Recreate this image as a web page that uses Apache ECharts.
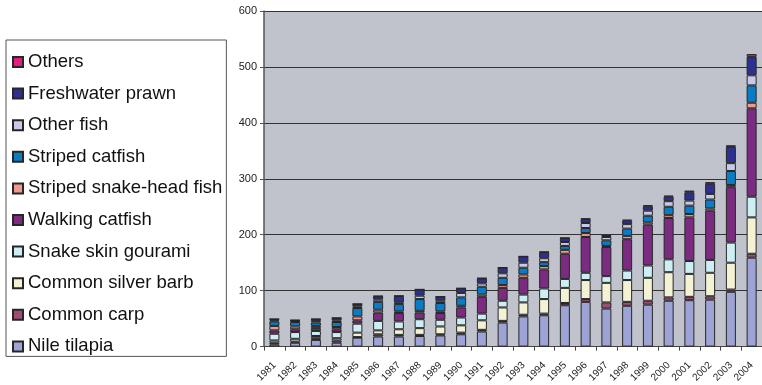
<!DOCTYPE html>
<html>
<head>
<meta charset="utf-8">
<script src="https://cdn.jsdelivr.net/npm/echarts@6/dist/echarts.min.js"></script>
<style>
  html, body { margin: 0; padding: 0; background: #ffffff; }
  #chart { width: 762px; height: 385px; }
</style>
</head>
<body>
<div id="chart"></div>
<script>
// Production by species, 1981-2004 (stacked, bottom to top)
const years = ['1981','1982','1983','1984','1985','1986','1987','1988','1989','1990','1991','1992',
               '1993','1994','1995','1996','1997','1998','1999','2000','2001','2002','2003','2004'];

const nileTilapia    = [4, 7, 12, 7, 16, 18, 18, 19, 20, 22, 27, 43, 54, 56, 74, 80, 68, 73, 75, 82, 83, 84, 98, 159];
const commonCarp     = [3, 2, 3, 4, 1, 4, 3, 2, 2, 3, 3, 3, 3, 3, 4, 5, 11, 7, 7, 6, 6, 6, 4, 7];
const silverBarb     = [4, 5, 4, 4, 8, 7, 10, 12, 14, 13, 17, 24, 22, 26, 27, 34, 35, 39, 41, 45, 41, 42, 48, 65];
const snakeSkin      = [12, 12, 9, 11, 16, 17, 14, 16, 12, 14, 12, 12, 14, 19, 16, 13, 12, 17, 22, 23, 23, 23, 36, 37];
const walkingCatfish = [6, 5, 5, 5, 6, 15, 15, 12, 12, 18, 30, 23, 30, 34, 45, 64, 52, 56, 73, 74, 78, 88, 99, 158];
const snakeHead      = [8, 5, 4, 4, 7, 5, 3, 3, 3, 3, 4, 5, 6, 6, 7, 7, 2, 6, 4, 5, 6, 4, 4, 10];
const stripedCatfish = [8, 8, 6, 9, 15, 14, 13, 21, 15, 15, 14, 13, 12, 7, 7, 9, 10, 13, 12, 15, 15, 16, 25, 31];
const otherFish      = [2, 2, 3, 3, 3, 4, 2.5, 6, 4, 8, 6, 8, 9, 7, 7, 9, 6, 8, 9, 10, 9, 10, 14, 18];
const prawn          = [2, 1, 3, 4, 4, 6, 12, 11, 7, 8, 9, 10, 11, 11, 7, 7, 2, 6, 8, 8, 15, 18, 29, 33];
const others         = [0.5, 0.5, 0.5, 0.5, 0.5, 0.5, 0.5, 0.5, 0.5, 0.5, 0.5, 0.5, 0.5, 0.5, 0.5, 1, 1, 2, 2, 2, 3, 3, 3, 5];

const yTicks = { min: 0, max: 600, interval: 100 };

const seriesDefs = [
  { name: 'Nile tilapia',            data: nileTilapia,    color: '#9ea3d6' },
  { name: 'Common carp',             data: commonCarp,     color: '#9e4e74' },
  { name: 'Common silver barb',      data: silverBarb,     color: '#f4f2d4' },
  { name: 'Snake skin gourami',      data: snakeSkin,      color: '#cdeef5' },
  { name: 'Walking catfish',         data: walkingCatfish, color: '#7b2c80' },
  { name: 'Striped snake-head fish', data: snakeHead,      color: '#f2978f' },
  { name: 'Striped catfish',         data: stripedCatfish, color: '#0b7cc4' },
  { name: 'Other fish',              data: otherFish,      color: '#c7c9e7' },
  { name: 'Freshwater prawn',        data: prawn,          color: '#2d308f' },
  { name: 'Others',                  data: others,         color: '#e2207f' }
];

const font = '"Liberation Sans", Arial, sans-serif';

const chart = echarts.init(document.getElementById('chart'), null, { renderer: 'canvas' });

chart.setOption({
  animation: false,
  textStyle: { fontFamily: font },
  grid: {
    left: 264, top: 11, width: 500, bottom: 38,
    show: true, backgroundColor: '#c0c3cb', borderWidth: 0,
    containLabel: false
  },
  legend: {
    orient: 'vertical',
    left: 6, top: 40,
    padding: [12, 4, 0, 6],
    backgroundColor: '#ffffff',
    borderColor: '#555555',
    borderWidth: 1,
    borderRadius: 0,
    icon: 'rect',
    itemWidth: 10,
    itemHeight: 10,
    itemGap: 11.6,
    textStyle: { fontSize: 18.5, color: '#111111', fontFamily: font, lineHeight: 20 },
    data: seriesDefs.map(s => s.name).reverse()
  },
  xAxis: {
    type: 'category',
    data: years,
    axisLine: { lineStyle: { color: '#444444', width: 1 } },
    axisTick: { show: true, length: 4, lineStyle: { color: '#444444' } },
    axisLabel: { rotate: 45, fontSize: 10, color: '#222222', margin: 17, interval: 0 },
    splitLine: { show: false }
  },
  yAxis: {
    type: 'value',
    min: yTicks.min, max: yTicks.max, interval: yTicks.interval,
    axisLine: { show: true, lineStyle: { color: '#555555', width: 1.5 } },
    axisTick: { show: true, length: 4, lineStyle: { color: '#555555' } },
    axisLabel: { fontSize: 11, color: '#222222', margin: 7 },
    splitLine: { show: true, lineStyle: { color: '#333333', width: 1 } }
  },
  series: seriesDefs.map(s => ({
    name: s.name,
    type: 'bar',
    stack: 'total',
    barWidth: 10,
    data: s.data,
    itemStyle: { color: s.color, borderColor: '#262626', borderWidth: 1 },
    emphasis: { disabled: true }
  }))
});
</script>
</body>
</html>
